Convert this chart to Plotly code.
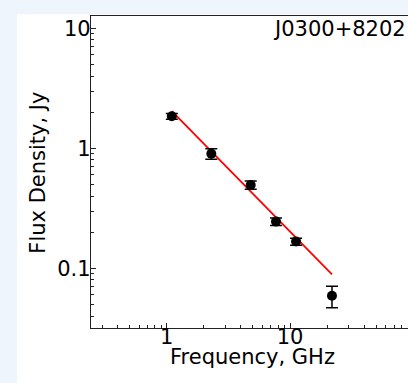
import plotly.graph_objects as go

# Data
freq_ghz = [1.1, 2.3, 4.8, 7.7, 11.2, 21.9]
flux_jy = [1.85, 0.90, 0.495, 0.245, 0.167, 0.059]
flux_err = [0.10, 0.09, 0.04, 0.018, 0.011, 0.012]

fit_freq = [1.1, 21.9]
fit_flux = [2.04, 0.089]

x_tickvals = [1, 10]
x_ticktext = ["1", "10"]
y_tickvals = [0.1, 1, 10]
y_ticktext = ["0.1", "1", "10"]

source_name = "J0300+8202"
x_title = "Frequency, GHz"
y_title = "Flux Density, Jy"

FONT = "DejaVu Sans"
AX = "#222222"
EDGE = "#eef5fd"

fig = go.Figure()

fig.add_trace(go.Scatter(
    x=fit_freq, y=fit_flux, mode="lines",
    line=dict(color="#ff0000", width=1.8),
    showlegend=False, hoverinfo="skip",
))

fig.add_trace(go.Scatter(
    x=freq_ghz, y=flux_jy, mode="markers",
    marker=dict(color="black", size=10),
    error_y=dict(type="data", array=flux_err, symmetric=True,
                 color="black", thickness=1.5, width=6),
    showlegend=False,
))

# light-blue frame strips on the left and top of the picture
fig.add_shape(type="rect", xref="paper", yref="paper",
              x0=-0.3, x1=-0.2334, y0=-0.3, y1=1.2,
              fillcolor=EDGE, line=dict(width=0), layer="below")
fig.add_shape(type="rect", xref="paper", yref="paper",
              x0=-0.3, x1=1.1, y0=1.0054, y1=1.2,
              fillcolor=EDGE, line=dict(width=0), layer="below")

txt_font = dict(family=FONT, size=21, color="black")

fig.add_annotation(text=source_name, xref="paper", yref="paper",
                   x=1.0, y=0.958, xanchor="right", yanchor="middle",
                   showarrow=False, font=txt_font)
fig.add_annotation(text=x_title, xref="paper", yref="paper",
                   x=0.508, y=-0.093, xanchor="center", yanchor="middle",
                   showarrow=False, font=txt_font)
fig.add_annotation(text=y_title, xref="paper", yref="paper",
                   x=-0.167, y=0.498, xanchor="center", yanchor="middle",
                   textangle=-90, showarrow=False, font=txt_font)

fig.update_layout(
    width=408, height=383,
    margin=dict(l=91, r=0, t=16, b=55, pad=0),
    paper_bgcolor="white",
    plot_bgcolor="white",
    font=txt_font,
)

fig.update_xaxes(
    type="log", range=[-0.614, 1.957],
    showline=True, linecolor=AX, linewidth=1.3, mirror=True,
    showgrid=False, zeroline=False,
    ticks="inside", ticklen=5, tickwidth=1.2, tickcolor=AX,
    tickvals=x_tickvals, ticktext=x_ticktext,
    tickfont=txt_font,
    ticklabelstandoff=-10,
    minor=dict(ticks="inside", ticklen=3, tickwidth=1, tickcolor=AX,
               dtick="D1", showgrid=False),
)

fig.update_yaxes(
    type="log", range=[-1.4975, 1.1025],
    showline=True, linecolor=AX, linewidth=1.3, mirror=False,
    showgrid=False, zeroline=False,
    ticks="inside", ticklen=5, tickwidth=1.2, tickcolor=AX,
    tickvals=y_tickvals, ticktext=y_ticktext,
    tickfont=txt_font,
    ticklabelstandoff=-5,
    minor=dict(ticks="inside", ticklen=3, tickwidth=1, tickcolor=AX,
               dtick="D1", showgrid=False),
)

fig.write_html("out.html", config={"displayModeBar": False})
